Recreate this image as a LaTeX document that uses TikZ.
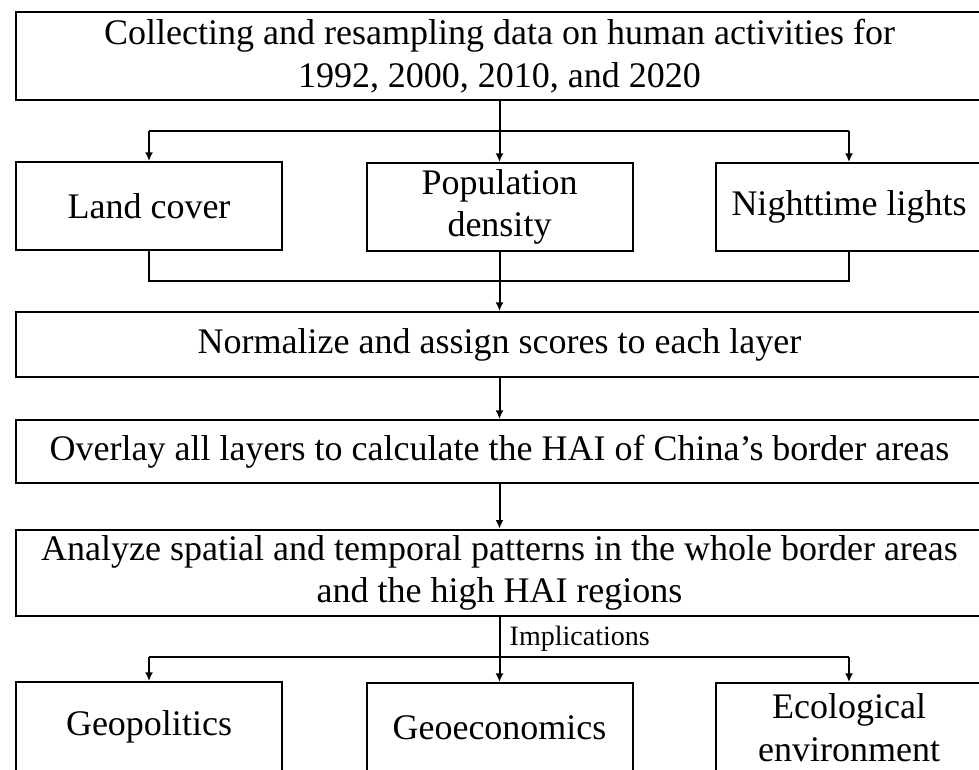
\documentclass[tikz,border=0pt]{standalone}
\usepackage{fontspec}
\setmainfont{Liberation Serif}
\usetikzlibrary{arrows.meta}

\tikzset{
	box/.style={draw, line width=1.5pt, inner sep=0pt, align=center, font=\fontsize{27}{32}\selectfont},
	widebox/.style={box, minimum width=726pt},
	smallbox/.style={box, minimum width=199.5pt, minimum height=66pt},
	link/.style={line width=1.5pt},
	arrow/.style={line width=1.5pt, -{Latex[length=6.5pt, width=6pt]}}
}

\begin{document}
\begin{tikzpicture}[x=0.75pt, y=-0.75pt]
	%%%%% START %%%%%
	\useasboundingbox (0, 0) rectangle (979, 769);
	
	\node[widebox, minimum height=66pt] (collect) at (499.5, 56) {Collecting and resampling data on human activities for\\1992, 2000, 2010, and 2020};
	
	\node[smallbox] (land) at (149, 206) {Land cover};
	\node[smallbox] (pop) at (499.5, 207) {Population\\density};
	\node[smallbox] (night) at (849, 207) {Nighttime lights};
	
	\node[widebox, minimum height=48.75pt] (norm) at (499.5, 344.5) {Normalize and assign scores to each layer};
	\node[widebox, minimum height=47.25pt] (overlay) at (499.5, 451.5) {Overlay all layers to calculate the HAI of China’s border areas};
	\node[widebox, minimum height=65pt] (analyze) at (499.5, 573) {Analyze spatial and temporal patterns in the whole border areas\\and the high HAI regions};
	
	\node[smallbox, minimum height=67.5pt] (geopol) at (149, 727) {Geopolitics};
	\node[smallbox, minimum height=67.5pt] (geoeco) at (499.5, 728) {Geoeconomics};
	\node[smallbox, minimum height=67.5pt] (ecoenv) at (849, 728) {Ecological\\environment};
	
	% split to the three data layers
	\coordinate (split1) at (499.5, 131);
	\draw[arrow] (collect.south) -- (pop.north);
	\draw[link] (land.north |- split1) -- (night.north |- split1);
	\draw[arrow] (land.north |- split1) -- (land.north);
	\draw[arrow] (night.north |- split1) -- (night.north);
	
	% join the layers again
	\coordinate (join1) at (499.5, 281);
	\draw[link] (land.south) -- (land.south |- join1) -- (night.south |- join1) -- (night.south);
	\draw[arrow] (pop.south) -- (norm.north);
	
	\draw[arrow] (norm.south) -- (overlay.north);
	\draw[arrow] (overlay.south) -- (analyze.north);
	
	% implications
	\coordinate (split2) at (499.5, 657);
	\node[anchor=west, font=\fontsize{21}{25}\selectfont] (impl) at (505, 639) {Implications};
	\draw[arrow] (analyze.south) -- (geoeco.north);
	\draw[link] (geopol.north |- split2) -- (ecoenv.north |- split2);
	\draw[arrow] (geopol.north |- split2) -- (geopol.north);
	\draw[arrow] (ecoenv.north |- split2) -- (ecoenv.north);
	%%%%% END %%%%%
\end{tikzpicture}
\end{document}
